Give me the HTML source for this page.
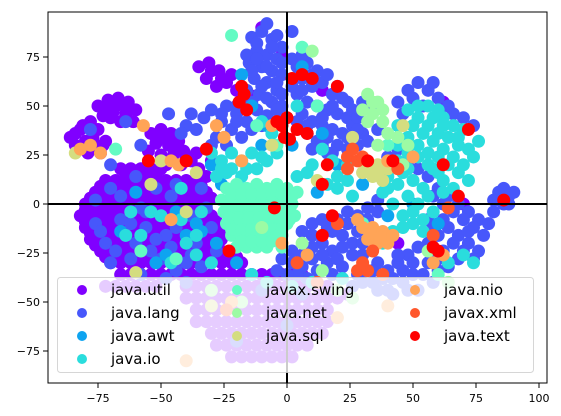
<!DOCTYPE html>
<html><head><meta charset="utf-8"><style>
body{margin:0;background:#fff;}
svg{display:block;font-family:"DejaVu Sans","Liberation Sans",sans-serif;}
</style></head><body>
<svg id="chart" width="561" height="416" viewBox="0 0 561 416" xmlns="http://www.w3.org/2000/svg">
<g id="points"></g>
<g id="axes"></g>
<g id="legend"></g>
</svg>
<script>
const classNames = ["java.util","java.lang","java.awt","java.io","javax.swing","java.net","java.sql","java.nio","javax.xml","java.text"];
const classColors = ["#8000ff","#4757fb","#0ea4f0","#2adddd","#63fbc3","#9cfba4","#d4dd80","#ffa457","#ff572c","#ff0000"];
const xTicks = [-75,-50,-25,0,25,50,75,100];
const yTicks = [-75,-50,-25,0,25,50,75];

const utilPts = [[-84,36],[-81,40],[-78,42],[-75,38],[-80,32],[-76,30],[-72,32],[-84,30],[-79,26],[-74,26],[-86,34],[-82,38],[-77,34],[-73,30],[-81,28],
[-75,50],[-71,53],[-67,54],[-63,52],[-60,48],[-64,46],[-69,47],[-73,45],[-66,42],[-61,42],[-72,50],[-68,50],[-64,50],[-70,44],
[-54,36],[-50,38],[-46,36],[-52,31],[-47,30],[-43,32],[-55,27],[-50,25],[-45,25],[-41,27],[-38,22],[-48,20],[-42,20],[-35,18],[-30,22],[-32,14],[-52,34],[-48,33],[-44,28],[-40,24],[-36,26],
[-35,70],[-31,72],[-27,68],[-32,64],[-28,60],[-24,62],[-20,58],[-22,66],[-17,52],[-13,55],[-30,68],[-26,64],
[-66,18],[-62,18],[-58,18],[-54,18],[-50,18],[-64,15],[-60,15],[-56,15],[-52,15],
[-72,12],[-68,12],[-64,12],[-60,12],[-56,12],[-52,12],[-48,12],[-44,12],[-40,12],[-36,12],
[-74,9],[-70,9],[-66,9],[-62,9],[-58,9],[-54,9],[-50,9],[-46,9],[-42,9],[-38,9],[-34,9],
[-76,6],[-72,6],[-68,6],[-64,6],[-60,6],[-56,6],[-52,6],[-48,6],[-44,6],[-40,6],[-36,6],[-32,6],
[-78,3],[-74,3],[-70,3],[-66,3],[-62,3],[-58,3],[-54,3],[-50,3],[-46,3],[-42,3],[-38,3],[-34,3],[-30,3],
[-80,0],[-76,0],[-72,0],[-68,0],[-64,0],[-60,0],[-56,0],[-52,0],[-48,0],[-44,0],[-40,0],[-36,0],[-32,0],
[-80,-3],[-76,-3],[-72,-3],[-68,-3],[-64,-3],[-60,-3],[-56,-3],[-52,-3],[-48,-3],[-44,-3],[-40,-3],[-36,-3],[-32,-3],
[-82,-6],[-78,-6],[-74,-6],[-70,-6],[-66,-6],[-62,-6],[-58,-6],[-54,-6],[-50,-6],[-46,-6],[-42,-6],[-38,-6],[-34,-6],[-30,-6],
[-80,-9],[-76,-9],[-72,-9],[-68,-9],[-64,-9],[-60,-9],[-56,-9],[-52,-9],[-48,-9],[-44,-9],[-40,-9],[-36,-9],[-32,-9],[-28,-9],
[-80,-12],[-76,-12],[-72,-12],[-68,-12],[-64,-12],[-60,-12],[-56,-12],[-52,-12],[-48,-12],[-44,-12],[-40,-12],[-36,-12],[-32,-12],[-28,-12],
[-78,-15],[-74,-15],[-70,-15],[-66,-15],[-62,-15],[-58,-15],[-54,-15],[-50,-15],[-46,-15],[-42,-15],[-38,-15],[-34,-15],[-30,-15],[-26,-15],
[-78,-18],[-74,-18],[-70,-18],[-66,-18],[-62,-18],[-58,-18],[-54,-18],[-50,-18],[-46,-18],[-42,-18],[-38,-18],[-34,-18],[-30,-18],[-26,-18],
[-76,-21],[-72,-21],[-68,-21],[-64,-21],[-60,-21],[-56,-21],[-52,-21],[-48,-21],[-44,-21],[-40,-21],[-36,-21],[-32,-21],[-28,-21],
[-74,-24],[-70,-24],[-66,-24],[-62,-24],[-58,-24],[-54,-24],[-50,-24],[-46,-24],[-42,-24],[-38,-24],[-34,-24],[-30,-24],[-26,-24],
[-72,-27],[-68,-27],[-64,-27],[-60,-27],[-56,-27],[-52,-27],[-48,-27],[-44,-27],[-40,-27],[-36,-27],[-32,-27],[-28,-27],[-24,-27],[-20,-27],
[-70,-30],[-66,-30],[-62,-30],[-58,-30],[-54,-30],[-50,-30],[-46,-30],[-42,-30],[-38,-30],[-34,-30],[-30,-30],[-26,-30],[-22,-30],[-18,-30],
[-66,-36],[-62,-36],[-58,-36],[-54,-36],[-50,-36],[-46,-36],[-42,-36],[-38,-36],[-34,-36],[-30,-36],[-26,-36],[-22,-36],[-18,-36],[-14,-36],[-10,-36],[-6,-36],[-2,-36],[2,-36],[6,-36],
[-72,-42],[-68,-42],[-64,-42],[-60,-42],[-56,-42],[-52,-42],[-40,-42],[-36,-42],[-32,-42],[-28,-42],[-24,-42],[-20,-42],[-16,-42],[-12,-42],[-8,-42],[-4,-42],[0,-42],[4,-42],[8,-42],[12,-42],[16,-42],
[-40,-48],[-36,-48],[-32,-48],[-28,-48],[-24,-48],[-20,-48],[-16,-48],[-12,-48],[-8,-48],[-4,-48],[0,-48],[4,-48],[8,-48],[12,-48],[16,-48],[20,-48],
[-36,-54],[-32,-54],[-28,-54],[-24,-54],[-20,-54],[-16,-54],[-12,-54],[-8,-54],[-4,-54],[0,-54],[4,-54],[8,-54],[12,-54],[16,-54],
[-36,-60],[-32,-60],[-28,-60],[-24,-60],[-20,-60],[-16,-60],[-12,-60],[-8,-60],[-4,-60],[0,-60],[4,-60],[8,-60],[12,-60],[16,-60],
[-30,-66],[-26,-66],[-22,-66],[-18,-66],[-14,-66],[-10,-66],[-6,-66],[-2,-66],[2,-66],[6,-66],[10,-66],[14,-66],
[-28,-72],[-24,-72],[-20,-72],[-16,-72],[-12,-72],[-8,-72],[-4,-72],[0,-72],[4,-72],[8,-72],
[-22,-78],[-18,-78],[-14,-78],[-10,-78],[-6,-78],[-2,-78],[2,-78],
[-10,90],[-2,76],[14,58],[40,24],[44,-20],[70,0],[62,52],[24,-46]];

const langPts = [[-14,85],[-10,88],[-6,84],[-2,80],[-12,78],[-8,76],[-4,74],[-15,72],[-10,70],[-6,68],[-2,66],[-13,64],[-8,62],[-4,58],[-11,56],[-6,52],[-2,50],[-12,48],[-8,45],[-3,44],[-16,42],[-20,46],[-24,50],[-26,42],[-22,38],[-18,34],[-28,34],[-24,30],[2,88],[-8,92],
[-12,82],[-4,86],[-16,76],[-6,80],[-12,74],[-2,72],[-8,70],[-14,68],[-4,62],[-10,60],[-16,58],[-2,56],[-8,54],[-14,52],[-20,50],[-4,48],[-20,42],[-14,38],[-26,46],[-10,40],
[4,70],[8,72],[12,68],[6,64],[10,60],[14,62],[18,56],[4,56],[8,52],[12,50],[16,48],[20,46],[24,44],[6,46],[10,42],[14,40],[18,38],[22,36],[26,40],[30,36],[8,36],[12,32],[20,30],[16,26],[28,30],[34,48],[30,52],[24,52],
[2,74],[6,76],[2,60],[16,66],[20,60],[22,54],[18,50],[26,48],[28,44],[14,44],[4,42],[8,40],[16,34],[24,34],[28,38],[10,28],[14,30],[18,26],[24,28],[32,32],[36,38],[10,66],[6,58],
[40,24],[44,28],[48,22],[52,18],[56,14],[36,2],[32,-2],[28,-6],[24,-4],[20,-8],[16,-12],[22,-16],[26,-20],[18,-24],[14,-20],[10,-16],[30,-26],[36,-30],[40,-34],[44,-30],[48,-26],[52,-22],[34,-40],[28,-36],[22,-32],[16,-30],[10,-28],[6,-32],[2,-30],[-4,-34],[46,-40],[40,-44],[50,-36],
[14,-8],[18,-14],[22,-22],[26,-26],[30,-20],[20,-28],[14,-26],[10,-22],[6,-26],[24,-10],[28,-14],[34,-34],[38,-38],[42,-38],[46,-34],[50,-30],[44,-26],[48,-44],[42,-46],[36,-44],[30,-40],[26,-42],[18,-36],[12,-34],[8,-38],[4,-36],[0,-36],[-2,-28],[2,-24],[6,-14],[10,-10],[32,-8],[36,-4],
[60,8],[64,4],[68,0],[72,-4],[76,-8],[64,-12],[68,-16],[72,-20],[60,-16],[56,-8],[76,-24],[62,-24],[68,-28],[80,-10],[84,6],[88,4],[86,0],[90,6],[82,2],[56,-30],[60,-34],[52,-44],[58,-40],
[62,0],[66,-4],[70,-8],[74,-12],[78,-16],[62,-8],[66,-20],[70,-24],[74,-28],[58,-12],[56,-20],[60,-28],[64,-32],[54,-36],[84,2],[88,0],[86,8],[82,-4],[58,4],[72,-14],
[48,58],[52,62],[56,58],[60,54],[46,46],[66,46],[70,44],[74,40],[44,52],[50,54],[54,50],[64,50],[58,62],
[-64,42],[-58,30],[-70,20],[-76,-10],[-66,-8],[-56,-12],[-48,-16],[-60,-20],[-50,-28],[-44,10],[-38,-6],[-34,8],[-30,30],[-40,40],[-47,46],[-33,44],[-78,38],[-70,-30],[-40,-40],[-10,-44],[6,-46],[-20,-70],[0,-62],
[-56,-4],[-46,-22],[-36,-20],[-30,-12],[-62,-28],[-40,-30],[-72,-20],[-66,4],[-52,8],[-38,46],[-36,38],[-42,36],[-30,48],[-58,-36],[-48,-38],
[-74,-14],[-68,-24],[-62,-10],[-58,-2],[-52,-18],[-44,-12],[-38,-26],[-32,-2],[-28,-24],[-46,4],[-60,14],[-70,8],[-76,2],[-54,-24],[-34,-32],[-44,-34]];

const awtPts = [[-30,20],[-44,-4],[-26,10],[2,30],[20,20],[-36,-10],[12,6],[-20,-30],[30,10],[40,-6],[-60,6],[-14,50],[-10,30],[-52,-30],[6,70],[50,0],[-28,-20],[-18,66],[-8,40],[14,36],[60,-10],[-66,-14],[-40,-16],[-48,-26],[-34,-14]];

const ioPts = [[48,48],[52,44],[56,40],[60,36],[64,34],[68,30],[72,28],[76,32],[70,38],[66,40],[62,44],[56,50],[60,48],[44,40],[48,34],[52,30],[56,26],[60,24],[64,20],[68,16],[72,12],[58,18],[62,12],[66,8],[54,8],[50,12],[46,16],[44,22],[40,14],[38,6],[42,0],[46,-6],[50,-10],[54,-14],[42,-14],[38,-20],[58,-4],[-30,26],[-26,22],[-22,26],[-18,22],[-28,14],[-24,16],[-18,14],[-12,18],[-14,26],[-8,22],[-4,26],[4,14],[10,20],[14,28],[18,22],[24,20],[20,8],[26,4],[-40,-20],[-36,-26],[-30,-30],[-14,-36],[-20,4],[-34,-4],[-50,-6],[-42,8],[70,-26],[74,-30],[64,-30],[2,-42],[10,-40],[22,-38],[-8,-40],[-10,42],[-6,36],[4,50],[-64,-16],[-54,-4],
[50,40],[54,36],[58,32],[62,28],[66,24],[70,20],[74,24],[52,24],[48,26],[56,20],[60,16],[48,18],[44,10],[48,4],[52,0],[40,8],[56,4],[62,6],[50,-4],[54,-8],[46,-12],[44,30],[68,34],[62,40],[58,44],[52,50],[-22,18],[-16,18],[-10,24],[-26,18],[20,14],[16,10],[8,16],[24,12],
[-58,-16],[-46,-30],[-36,-16],[-62,-4],[-42,-8]];

const swingPts = [[-24,8],[-20,10],[-16,8],[-12,10],[-8,8],[-4,10],[0,8],[4,6],[-26,2],[-22,2],[-18,2],[-14,2],[-10,2],[-6,2],[-2,2],[2,0],[-25,-4],[-21,-4],[-17,-4],[-13,-4],[-9,-4],[-5,-4],[-1,-4],[3,-6],[-24,-10],[-20,-10],[-16,-10],[-12,-10],[-8,-10],[-4,-10],[0,-10],[-22,-16],[-18,-16],[-14,-16],[-10,-16],[-6,-16],[-2,-16],[-20,-22],[-16,-22],[-12,-22],[-8,-22],[-2,-22],
[-22,5],[-18,5],[-14,5],[-10,5],[-6,5],[-2,5],[2,4],[-23,-1],[-19,-1],[-15,-1],[-11,-1],[-7,-1],[-3,-1],[1,-2],[-23,-7],[-19,-7],[-15,-7],[-11,-7],[-7,-7],[-3,-7],[1,-8],[-22,-13],[-18,-13],[-14,-13],[-10,-13],[-6,-13],[-2,-13],[-18,-19],[-14,-19],[-10,-19],[-6,-19],
[-22,86],[6,80],[-68,28],[-58,-24],[12,50],[40,30],[-44,-28],[30,-10],[-12,40],[60,-36],[-4,30]];

const netPts = [[32,56],[36,52],[34,46],[38,42],[30,48],[40,36],[36,30],[44,34],[48,30],[10,78],[14,-34],[20,-44],[56,-24],[-10,-12],[-30,-44],[-18,-50],[64,-40],[26,-48],[6,-20],[46,20],[34,52],[38,48],[32,42]];
const sqlPts = [[32,20],[36,20],[40,18],[34,14],[38,12],[30,16],[-84,26],[-54,10],[-40,-4],[-50,22],[-36,16],[26,34],[-6,30],[12,12],[46,40],[-30,-52],[-60,-35],[36,16],[34,18]];
const nioPts = [[30,-12],[34,-12],[38,-14],[42,-16],[32,-18],[36,-20],[40,-20],[28,-8],[-82,28],[-78,30],[-74,26],[-57,40],[-46,22],[-43,20],[-25,34],[-28,40],[-18,22],[-6,40],[40,22],[50,24],[58,-30],[62,-26],[-46,-8],[-2,-20],[8,-26],[-22,-50],[40,-52],[20,-58],[-40,-80],[33,-15],[37,-17]];
const xmlPts = [[24,24],[26,28],[28,22],[24,18],[30,24],[28,-34],[32,-34],[30,-30],[34,-24],[20,-10],[12,-40],[44,18],[64,-2],[58,-16],[-24,-54],[4,-30],[38,-36]];
const textPts = [[-18,60],[-17,56],[-19,52],[-16,48],[2,64],[6,66],[10,64],[-2,40],[0,44],[4,38],[8,36],[-4,42],[-55,22],[-23,-24],[-5,-2],[-1,34],[1,33],[14,10],[16,20],[18,-6],[32,22],[42,22],[62,20],[72,38],[58,-22],[60,-24],[68,4],[86,2],[-32,28],[-40,22],[20,60],[14,-16]];

const allSeries = [utilPts,langPts,awtPts,ioPts,swingPts,netPts,sqlPts,nioPts,xmlPts,textPts];

const L=48,R=547,T=12,B=383;
const xs = v => 287 + v*2.52;
const ys = v => 204 - v*1.96;
const NS="http://www.w3.org/2000/svg";
function mk(tag,attrs,parent){const e=document.createElementNS(NS,tag);for(const k in attrs)e.setAttribute(k,attrs[k]);parent.appendChild(e);return e;}

const pg=document.getElementById('points');
const cp=mk('clipPath',{id:'clip'},pg);
mk('rect',{x:L,y:T,width:R-L,height:B-T},cp);
pg.setAttribute('clip-path','url(#clip)');
allSeries.forEach((pts,ci)=>{
  pts.forEach(p=>{
    const c=mk('circle',{cx:xs(p[0]),cy:ys(p[1]),r:6.5,fill:classColors[ci]},pg);
    
    
  });
});

const ax=document.getElementById('axes');
const v=mk('line',{x1:xs(0),x2:xs(0),y1:T,y2:B,stroke:'#000','stroke-width':2},ax);


const h=mk('line',{x1:L,x2:R,y1:ys(0),y2:ys(0),stroke:'#000','stroke-width':2},ax);


const fr=mk('rect',{x:L,y:T,width:R-L,height:B-T,fill:'none',stroke:'#000','stroke-width':1},ax);


xTicks.forEach(t=>{
  const x=xs(t);
  const tk=mk('line',{x1:x,x2:x,y1:B,y2:B+5,stroke:'#000'},ax);
  
  
  const tx=mk('text',{x:x,y:B+19,'font-size':11,'text-anchor':'middle',fill:'#000'},ax);
  tx.textContent=t<0?'\u2212'+(-t):String(t);
  
  
});
yTicks.forEach(t=>{
  const y=ys(t);
  const tk=mk('line',{x1:L-5,x2:L,y1:y,y2:y,stroke:'#000'},ax);
  
  
  const tx=mk('text',{x:L-8,y:y+4,'font-size':11,'text-anchor':'end',fill:'#000'},ax);
  tx.textContent=t<0?'\u2212'+(-t):String(t);
  
  
});

const lg=document.getElementById('legend');
const box=mk('rect',{x:57.5,y:277.5,width:476,height:95,rx:3,fill:'#fff','fill-opacity':0.8,stroke:'#ccc','stroke-opacity':0.8},lg);


const colX=[82,237,415], rowY=[290,313,336,359];
const layout=[[0,0],[0,1],[0,2],[0,3],[1,0],[1,1],[1,2],[2,0],[2,1],[2,2]];
classNames.forEach((n,i)=>{
  const [c,r]=layout[i];
  const g=mk('g',{},lg);
  
  
  mk('circle',{cx:colX[c],cy:rowY[r],r:5,fill:classColors[i]},g);
  const t=mk('text',{x:colX[c]+29,y:rowY[r]+5,'font-size':15,fill:'#000'},g);
  t.textContent=n;
});
</script>
</body></html>
